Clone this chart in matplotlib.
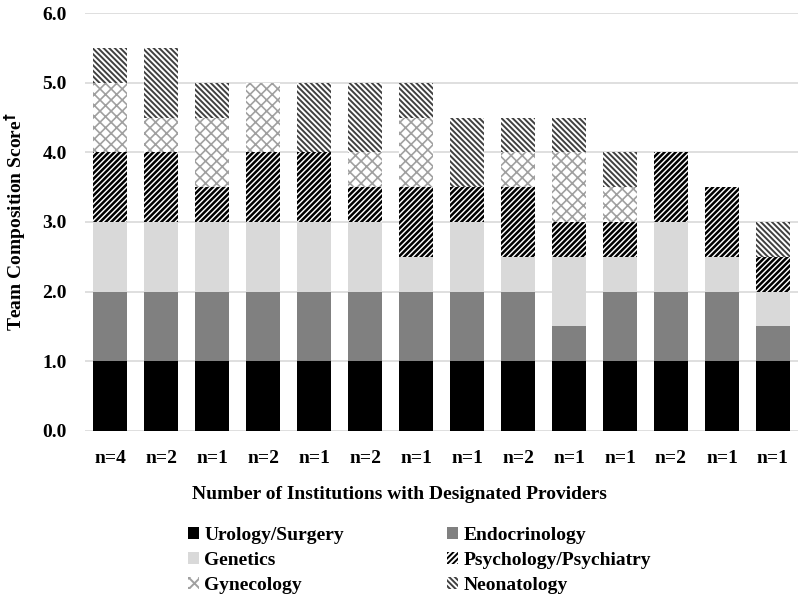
import matplotlib
matplotlib.use("Agg")
import matplotlib.pyplot as plt
import numpy as np
from matplotlib.patches import Patch

plt.rcParams['font.family'] = ['Liberation Serif', 'DejaVu Serif']
plt.rcParams['font.weight'] = 'bold'

categories = ["n=4", "n=2", "n=1", "n=2", "n=1", "n=2", "n=1",
              "n=1", "n=2", "n=1", "n=1", "n=2", "n=1", "n=1"]
urology = [1, 1, 1, 1, 1, 1, 1, 1, 1, 1, 1, 1, 1, 1]
endocrinology = [1, 1, 1, 1, 1, 1, 1, 1, 1, 0.5, 1, 1, 1, 0.5]
genetics = [1, 1, 1, 1, 1, 1, 0.5, 1, 0.5, 1, 0.5, 1, 0.5, 0.5]
psychology = [1, 1, 0.5, 1, 1, 0.5, 1, 0.5, 1, 0.5, 0.5, 1, 1, 0.5]
gynecology = [1, 0.5, 1, 1, 0, 0.5, 1, 0, 0.5, 1, 0.5, 0, 0, 0]
neonatology = [0.5, 1, 0.5, 0, 1, 1, 0.5, 1, 0.5, 0.5, 0.5, 0, 0, 0.5]

series_names = ["Urology/Surgery", "Endocrinology", "Genetics",
                "Psychology/Psychiatry", "Gynecology", "Neonatology"]
series = [urology, endocrinology, genetics, psychology, gynecology, neonatology]
styles = [
    dict(color="#000000", hatch=None, edge="#000000", hlw=1.0),
    dict(color="#808080", hatch=None, edge="#808080", hlw=1.0),
    dict(color="#d9d9d9", hatch=None, edge="#d9d9d9", hlw=1.0),
    dict(color="white", hatch="//////", edge="#000000", hlw=1.8),
    dict(color="white", hatch="xxx", edge="#a0a0a0", hlw=1.2),
    dict(color="white", hatch="\\\\\\\\\\\\", edge="#404040", hlw=1.4),
]

fig = plt.figure(figsize=(8, 5.95), dpi=100)
ax = fig.add_axes([0.106, 0.276, 0.892, 0.702])

x = np.arange(len(categories))
bottom = np.zeros(len(categories))
for vals, st in zip(series, styles):
    plt.rcParams['hatch.linewidth'] = st["hlw"]
    v = np.array(vals, dtype=float)
    ax.bar(x, v, width=0.67, bottom=bottom, color=st["color"],
           edgecolor=st["edge"], linewidth=0, hatch=st["hatch"], zorder=3)
    bottom += v

ax.set_ylim(0, 6)
ax.set_xlim(-0.5, len(categories) - 0.5)
ax.set_yticks(np.arange(0, 6.1, 1))
ax.set_yticklabels([f"{t:.1f}" for t in np.arange(0, 6.1, 1)], fontsize=14, fontweight='bold')
ax.set_xticks(x)
ax.set_xticklabels(categories, fontsize=14, fontweight='bold')
ax.tick_params(axis='x', length=0, pad=14)
ax.tick_params(axis='y', length=0, pad=13)
ax.yaxis.grid(True, color="#d9d9d9", linewidth=1.2, zorder=0)
ax.set_axisbelow(True)
for s in ["top", "right", "left", "bottom"]:
    ax.spines[s].set_visible(False)

ax.set_ylabel("Team Composition Score$^{\\dagger}$", fontsize=14, fontweight='bold')
ax.yaxis.set_label_coords(-0.08, 0.5)
ax.set_xlabel("Number of Institutions with Designated Providers", fontsize=14,
              fontweight='bold')
ax.xaxis.set_label_coords(0.441, -0.153)
ax.xaxis.label.set_va('center')

handles = {}
for name, st in zip(series_names, styles):
    handles[name] = Patch(facecolor=st["color"], edgecolor=st["edge"], hatch=st["hatch"],
                          linewidth=0, label=name)
order = ["Urology/Surgery", "Genetics", "Gynecology",
         "Endocrinology", "Psychology/Psychiatry", "Neonatology"]
leg = fig.legend(handles=[handles[n] for n in order], loc="lower left",
                 bbox_to_anchor=(0.213, -0.027),
                 ncol=2, frameon=False, fontsize=14, handlelength=0.55, handleheight=0.6,
                 handletextpad=0.3, columnspacing=5.3, labelspacing=0.4)
for t in leg.get_texts():
    t.set_fontweight('bold')

fig.savefig("out.png", dpi=100)
